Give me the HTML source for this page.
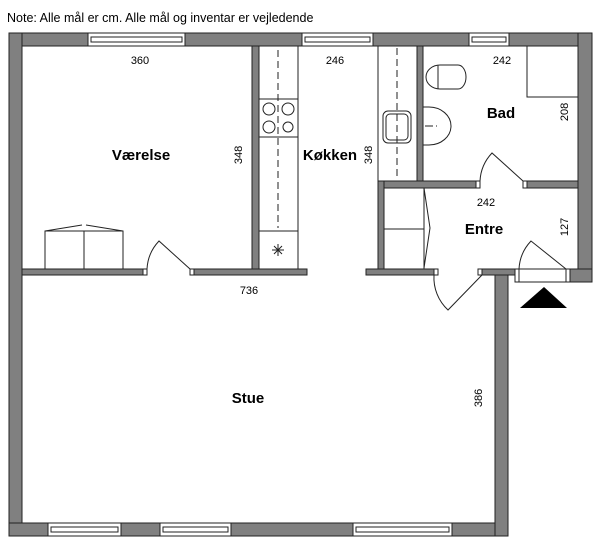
<!DOCTYPE html>
<html><head><meta charset="utf-8"><style>
body{margin:0;background:#fff}
svg{display:block}
text{font-family:"Liberation Sans",sans-serif;fill:#000}
.b{font-weight:bold;font-size:15px}
.d{font-size:11px}
</style></head><body>
<svg width="600" height="547" viewBox="0 0 600 547">
<text x="7" y="22" font-size="12.5">Note: Alle mål er cm. Alle mål og inventar er vejledende</text>
<g fill="#808080" stroke="#222" stroke-width="1">
<rect x="9" y="33" width="583" height="13"/>
<rect x="9" y="33" width="13" height="503"/>
<rect x="9" y="523" width="499" height="13"/>
<rect x="495" y="275" width="13" height="261"/>
<rect x="578" y="33" width="14" height="249"/>
<rect x="570" y="269" width="22" height="13"/>
<rect x="252" y="46" width="7" height="223"/>
<rect x="22" y="269" width="125" height="6"/>
<rect x="190" y="269" width="117" height="6"/>
<rect x="366" y="269" width="68" height="6"/>
<rect x="482" y="269" width="33" height="6"/>
<rect x="417" y="46" width="6" height="135"/>
<rect x="378" y="181" width="102" height="7"/>
<rect x="523" y="181" width="55" height="7"/>
<rect x="378" y="181" width="6" height="88"/>
</g>
<g fill="#fff" stroke="#222" stroke-width="1">
<rect x="88" y="33" width="97" height="13"/><rect x="91" y="37" width="91" height="5"/>
<rect x="302" y="33" width="71" height="13"/><rect x="305" y="37" width="65" height="5"/>
<rect x="469" y="33" width="40" height="13"/><rect x="472" y="37" width="34" height="5"/>
<rect x="48" y="523" width="73" height="13"/><rect x="51" y="527" width="67" height="5"/>
<rect x="160" y="523" width="71" height="13"/><rect x="163" y="527" width="65" height="5"/>
<rect x="353" y="523" width="99" height="13"/><rect x="356" y="527" width="93" height="5"/>
<rect x="515" y="269" width="55" height="13"/>
<rect x="515" y="269" width="4" height="13"/><rect x="566" y="269" width="4" height="13"/>
<rect x="143" y="269" width="4" height="6"/><rect x="190" y="269" width="4" height="6"/>
<rect x="434" y="269" width="4" height="6"/><rect x="478" y="269" width="4" height="6"/>
<rect x="476" y="181" width="4" height="7"/><rect x="523" y="181" width="4" height="7"/>
</g>
<g fill="none" stroke="#222" stroke-width="1">
<rect x="259" y="46" width="39" height="223"/>
<line x1="259" y1="99" x2="298" y2="99"/><line x1="259" y1="137" x2="298" y2="137"/>
<line x1="259" y1="231" x2="298" y2="231"/>
<line x1="278" y1="50" x2="278" y2="228" stroke-dasharray="7,4"/>
<circle cx="269" cy="109" r="6"/><circle cx="288" cy="109" r="6"/>
<circle cx="269" cy="127" r="6"/><circle cx="288" cy="127" r="5"/>
<path d="M272 250h12M278 244v12M274 246l8 8M282 246l-8 8"/>
<rect x="378" y="46" width="39" height="135"/>
<line x1="397" y1="48" x2="397" y2="180" stroke-dasharray="7,4"/>
<rect x="383" y="111" width="28" height="32" rx="5"/><rect x="386" y="114" width="22" height="26" rx="4"/>
<rect x="527" y="46" width="51" height="51"/>
<path d="M440 65h18a8 12 0 0 1 0 24h-18a14 12 0 0 1 0-24zM438 65v24"/>
<path d="M423 107h6a22 19 0 0 1 0 38h-6"/>
<path d="M425 126h8M436 126h1"/>
<rect x="45" y="231" width="78" height="38"/><line x1="84" y1="231" x2="84" y2="269"/>
<path d="M45 231l37-6M86 225l37 6"/>
<path d="M147 269a44 44 0 0 1 12-28l31 28"/>
<path d="M480 181a44 44 0 0 1 12-28l31 28"/>
<path d="M519 269a44 44 0 0 1 12-28l35 28"/>
<path d="M434 275a44 44 0 0 0 14 35l34-35"/>
<rect x="384" y="188" width="40" height="81"/><line x1="384" y1="229" x2="424" y2="229"/>
<path d="M424 188l6 40-6 40"/>
</g>
<polygon points="520,308 544,287 567,308" fill="#000"/>
<g class="d" text-anchor="middle">
<text x="140" y="64">360</text><text x="335" y="64">246</text><text x="502" y="64">242</text>
<text x="486" y="206">242</text><text x="249" y="294">736</text>
<text transform="translate(242,155) rotate(-90)">348</text>
<text transform="translate(372,155) rotate(-90)">348</text>
<text transform="translate(568,112) rotate(-90)">208</text>
<text transform="translate(568,227) rotate(-90)">127</text>
<text transform="translate(482,398) rotate(-90)">386</text>
</g>
<g class="b" text-anchor="middle">
<text x="141" y="160">Værelse</text><text x="330" y="160">Køkken</text>
<text x="501" y="118">Bad</text><text x="484" y="234">Entre</text><text x="248" y="403">Stue</text>
</g>
</svg>
</body></html>
